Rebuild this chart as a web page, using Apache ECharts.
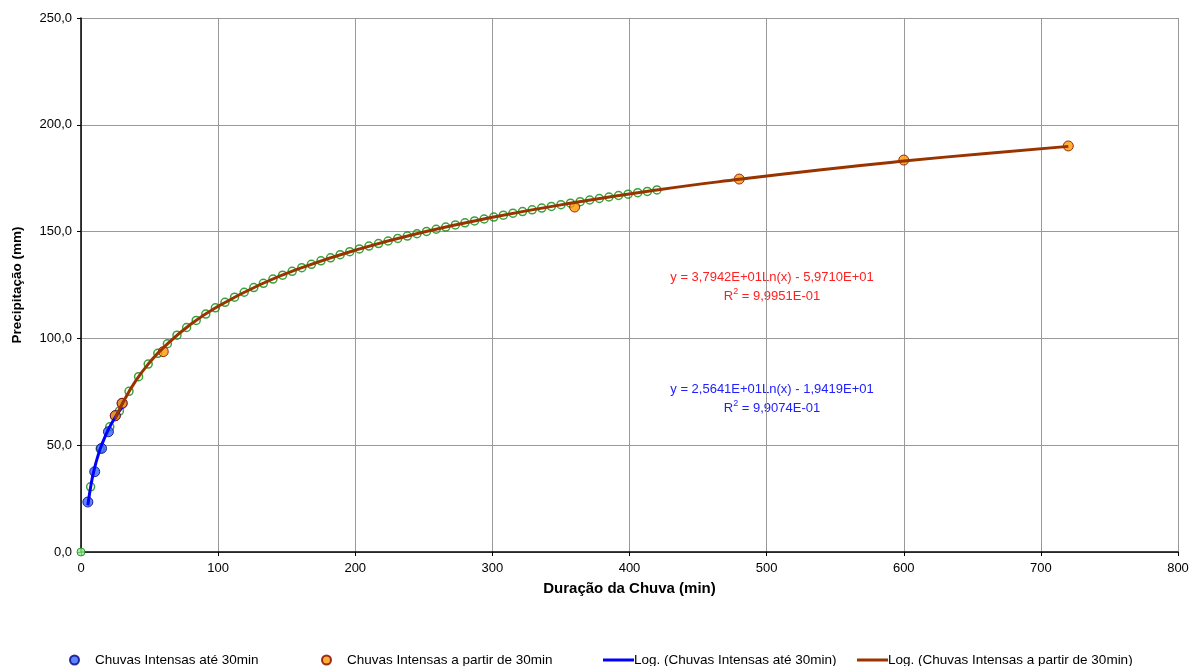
<!DOCTYPE html>
<html>
<head>
<meta charset="utf-8">
<script src="https://cdn.jsdelivr.net/npm/echarts@6/dist/echarts.min.js"></script>
<style>
  html, body { margin: 0; padding: 0; background: #fff; }
  #chart { width: 1189px; height: 666px; }
</style>
</head>
<body>
<div id="chart"></div>
<script>
"use strict";
var azulX = [5, 10, 15, 20, 25, 30];
var azulY = [23.4, 37.6, 48.5, 56.3, 63.8, 69.6];
var laranjaX = [25, 30, 60, 360, 480, 600, 720];
var laranjaY = [63.8, 69.6, 93.8, 161.5, 174.6, 183.5, 190.1];

// série verde (circulos vazados), de 7 em 7 min
var verdeX = [7, 14, 21, 28, 35, 42, 49, 56, 63, 70, 77, 84, 91, 98, 105, 112, 119, 126, 133, 140,
  147, 154, 161, 168, 175, 182, 189, 196, 203, 210, 217, 224, 231, 238, 245, 252, 259, 266, 273, 280,
  287, 294, 301, 308, 315, 322, 329, 336, 343, 350, 357, 364, 371, 378, 385, 392, 399, 406, 413, 420];
var verdeY = [30.5, 48.3, 58.6, 66.0, 75.2, 82.1, 88.0, 93.0, 97.5, 101.5, 105.1, 108.4, 111.4, 114.3, 116.9, 119.3, 121.6, 123.8, 125.8, 127.8,
  129.6, 131.4, 133.1, 134.7, 136.3, 137.7, 139.2, 140.6, 141.9, 143.2, 144.4, 145.6, 146.8, 147.9, 149.0, 150.1, 151.1, 152.1, 153.1, 154.1,
  155.0, 155.9, 156.8, 157.7, 158.6, 159.4, 160.2, 161.0, 161.8, 162.6, 163.3, 164.0, 164.8, 165.5, 166.2, 166.9, 167.5, 168.2, 168.8, 169.5];
var origem = [0, 0];

// linhas de tendência (lidas ao longo das curvas)
var tendAzulX = [5, 7.5, 10, 12.5, 15, 20, 25, 30];
var tendAzulY = [21.9, 32.2, 39.6, 45.3, 50.0, 57.4, 63.1, 67.8];
var tendMarromX = [25, 30, 40, 50, 60, 80, 100, 130, 160, 200, 250, 300, 360, 420, 480, 540, 600, 660, 720];
var tendMarromY = [62.4, 69.3, 80.2, 88.7, 95.6, 106.6, 115.0, 125.0, 132.9, 141.3, 149.8, 156.7, 163.6, 169.5, 174.5, 179.0, 183.0, 186.6, 189.9];

var eqMarrom = ["y = 3,7942E+01Ln(x) - 5,9710E+01", "R{s|2} = 9,9951E-01"];
var eqAzul = ["y = 2,5641E+01Ln(x) - 1,9419E+01", "R{s|2} = 9,9074E-01"];

var nomes = ["Chuvas Intensas até 30min", "Chuvas Intensas a partir de 30min",
  "Log. (Chuvas Intensas até 30min)", "Log. (Chuvas Intensas a partir de 30min)"];

function pares(xs, ys) {
  return xs.map(function (x, i) { return [x, ys[i]]; });
}

var fonte = "Liberation Sans, Arial, sans-serif";
var chart = echarts.init(document.getElementById("chart"));

function legenda(left, nome, icone, w, h, pad) {
  return {
    left: left, top: 648, itemGap: 0, itemWidth: w, itemHeight: h,
    data: [{ name: nome, icon: icone }],
    textStyle: { fontFamily: fonte, fontSize: 13.5, color: "#000", padding: [0, 0, 0, pad] }
  };
}

function equacao(x, y, linhas, cor) {
  return {
    type: "text", x: x, y: y,
    style: {
      text: linhas.join("\n"), fill: cor, font: "13px " + fonte,
      align: "center", verticalAlign: "top", lineHeight: 19,
      rich: { s: { fontSize: 9, verticalAlign: "top", padding: [0, 0, 6, 0], fill: cor, lineHeight: 19 } }
    }
  };
}

chart.setOption({
  animation: false,
  backgroundColor: "#fff",
  grid: { left: 81, right: 11, top: 18, bottom: 114, outerBoundsMode: "none", containLabel: false },
  xAxis: {
    type: "value", min: 0, max: 800, interval: 100,
    name: "Duração da Chuva (min)", nameLocation: "middle", nameGap: 29,
    nameTextStyle: { fontFamily: fonte, fontSize: 15, fontWeight: "bold", color: "#000" },
    axisLine: { onZero: false, lineStyle: { color: "#000", width: 1.5 } },
    axisTick: { show: true, length: 4, lineStyle: { color: "#000" } },
    axisLabel: { fontFamily: fonte, fontSize: 13, color: "#000", margin: 10 },
    splitLine: { show: true, lineStyle: { color: "#999", width: 1 } }
  },
  yAxis: {
    type: "value", min: 0, max: 250, interval: 50,
    name: "Precipitação (mm)", nameLocation: "middle", nameGap: 57, nameRotate: 90,
    nameTextStyle: { fontFamily: fonte, fontSize: 13.5, fontWeight: "bold", color: "#000" },
    axisLine: { show: true, onZero: false, lineStyle: { color: "#000", width: 1.5 } },
    axisTick: { show: true, length: 4, lineStyle: { color: "#000" } },
    axisLabel: {
      fontFamily: fonte, fontSize: 13, color: "#000", margin: 9,
      formatter: function (v) { return v.toFixed(1).replace(".", ","); }
    },
    splitLine: { show: true, lineStyle: { color: "#999", width: 1 } }
  },
  legend: [
    legenda(64, nomes[0], "circle", 9, 9, 11),
    legenda(316, nomes[1], "circle", 9, 9, 11),
    legenda(598, nomes[2], "rect", 31, 3, -5),
    legenda(852, nomes[3], "rect", 31, 3, -5)
  ],
  graphic: [
    equacao(772, 268, eqMarrom, "#ff2020"),
    equacao(772, 380, eqAzul, "#2020ff")
  ],
  series: [
    {
      name: "verde", type: "scatter", symbol: "circle", symbolSize: 8, z: 2,
      itemStyle: { color: "rgba(255,255,255,0)", borderColor: "#0a8a0a", borderWidth: 1.5 },
      data: pares(verdeX, verdeY)
    },
    {
      name: "origem", type: "scatter", symbol: "circle", symbolSize: 8, z: 2,
      itemStyle: { color: "#90ee90", borderColor: "#0a8a0a", borderWidth: 1 },
      data: [origem]
    },
    {
      name: nomes[0], type: "scatter", symbol: "circle", symbolSize: 10, z: 3,
      itemStyle: { color: "#3366ff", borderColor: "#000080", borderWidth: 1 },
      data: pares(azulX, azulY)
    },
    {
      name: nomes[1], type: "scatter", symbol: "circle", symbolSize: 10, z: 4,
      itemStyle: { color: "#ff9900", borderColor: "#800000", borderWidth: 1 },
      data: pares(laranjaX, laranjaY)
    },
    {
      name: nomes[2], type: "line", smooth: true, showSymbol: false, symbol: "none", z: 5,
      lineStyle: { color: "#0000ff", width: 3 }, itemStyle: { color: "#0000ff" },
      data: pares(tendAzulX, tendAzulY)
    },
    {
      name: nomes[3], type: "line", smooth: true, showSymbol: false, symbol: "none", z: 6,
      lineStyle: { color: "#993300", width: 3 }, itemStyle: { color: "#993300" },
      data: pares(tendMarromX, tendMarromY)
    }
  ]
});
</script>
</body>
</html>
